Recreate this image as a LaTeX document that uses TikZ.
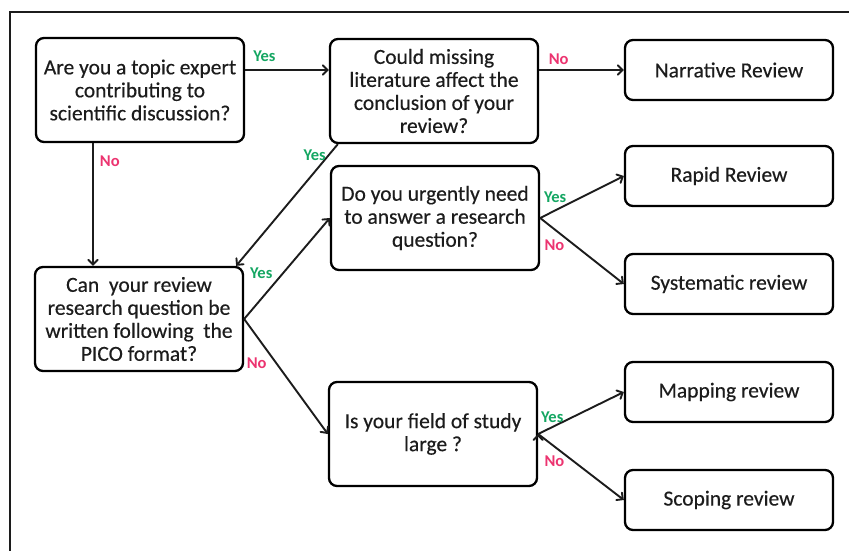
\documentclass[tikz,border=0pt]{standalone}
\usepackage{fontspec}
\setmainfont{Carlito}
\newfontfamily\boxfont[FakeBold=0.4]{Carlito}
\usetikzlibrary{arrows}
\definecolor{yesgreen}{RGB}{20,166,98}
\definecolor{nopink}{RGB}{236,52,112}
\definecolor{inkgray}{RGB}{28,28,28}
\tikzset{
  qbox/.style={draw, rounded corners=8pt, line width=2.3pt, inner sep=0pt,
    minimum width=208pt, minimum height=104pt, align=center, text=inkgray,
    font=\boxfont\fontsize{21.5}{23}\selectfont},
  abox/.style={qbox, minimum height=60pt},
  yeslab/.style={text=yesgreen, inner sep=1pt, font=\fontsize{16.5}{18}\selectfont\bfseries},
  nolab/.style={yeslab, text=nopink},
}

\begin{document}
\begin{tikzpicture}[>=angle 90, x=1pt, y=-1pt]
\useasboundingbox (0,0) rectangle (849,551);
% frame
\draw[line width=2.3pt, inkgray] (10,551) -- (10,12) -- (849,12);
% questions
\node[qbox] (expert) at (140,90) {Are you a topic expert\\contributing to\\scientific discussion?};
\node[qbox] (missing) at (434,91) {Could missing\\literature affect the\\conclusion of your\\review?};
\node[qbox] (urgent) at (435,218) {Do you urgently need\\to answer a research\\question?};
\node[qbox] (pico) at (139,319) {Can~ your review\\research question be\\written following~ the\\PICO format?};
\node[qbox] (field) at (433,434) {Is your field of study\\large ?};
% review types
\node[abox] (narrative) at (729,70) {Narrative Review};
\node[abox] (rapid) at (729,176) {Rapid Review};
\node[abox] (systematic) at (729,284) {Systematic review};
\node[abox] (mapping) at (729,392) {Mapping review};
\node[abox] (scoping) at (729,500) {Scoping review};
% decisions
\draw [->, line width=1.9pt, inkgray]
(expert.east |- narrative) edge node[yeslab, pos=.23, above=6pt] {Yes} (missing.west |- narrative)
(missing.east |- narrative) edge node[nolab, pos=.23, above=3pt] {No} (narrative.west)
([xshift=-47pt]expert.south) edge node[nolab, pos=.15, right=5pt] {No} ([xshift=-47pt]expert.south |- pico.north)
([xshift=9pt]missing.south west) edge node[yeslab, pos=.09, left=1pt] {Yes} ([xshift=-8pt]pico.north east)
(pico.east) edge node[yeslab, pos=.2, above=18pt] {Yes} (urgent.west)
(pico.east) edge node[nolab, pos=.15, below=20pt] {No} (field.west)
(urgent.east) edge node[yeslab, pos=.18, above=6pt] {Yes} (rapid.west)
(urgent.east) edge node[nolab, pos=.17, below=9pt] {No} (systematic.west)
(field.east) edge node[yeslab, pos=.165, above=3pt] {Yes} (mapping.west)
(field.east) edge node[nolab, pos=.19, below=7pt] {No} (scoping.west);
\end{tikzpicture}
\end{document}
